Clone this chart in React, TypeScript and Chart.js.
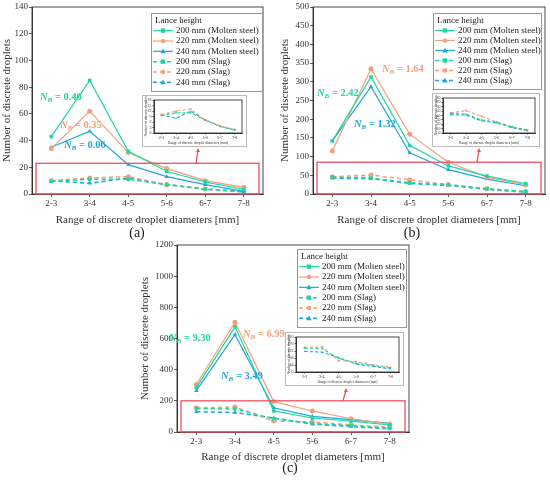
import { useEffect, useRef } from 'react';
import Chart from 'chart.js/auto';

Chart.defaults.font.family = '"Liberation Serif", "Times New Roman", serif';
Chart.defaults.color = '#222';

const categories = ['2-3', '3-4', '4-5', '5-6', '6-7', '7-8'];
const seriesNames = [
  '200 mm (Molten steel)',
  '220 mm (Molten steel)',
  '240 mm (Molten steel)',
  '200 mm (Slag)',
  '220 mm (Slag)',
  '240 mm (Slag)',
];
const xTitle = 'Range of discrete droplet diameters [mm]';
const yTitle = 'Number of discrete droplets';

// (a)
const steelA200 = [43, 85, 32, 17, 9, 3.5];
const steelA220 = [34, 62, 31, 19, 10, 5];
const steelA240 = [35, 47, 22, 13, 7, 2];
const slagA200 = [9.5, 11, 11, 7, 3.8, 1.8];
const slagA220 = [10, 12, 13, 7, 3.8, 1.8];
const slagA240 = [10, 8, 12, 7, 3.6, 1.5];
const nbA = ['0.40', '0.35', '0.06'];

// (b)
const steelB200 = [142, 313, 130, 75, 48, 28];
const steelB220 = [115, 335, 160, 85, 45, 25];
const steelB240 = [142, 287, 110, 65, 40, 22];
const slagB200 = [45, 43, 30, 25, 14, 7];
const slagB220 = [46, 51, 38, 25, 14, 6];
const slagB240 = [42, 41, 28, 23, 12, 5];
const nbB = ['2.42', '1.64', '1.32'];

// (c)
const steelC200 = [285, 675, 135, 90, 70, 45];
const steelC220 = [305, 705, 195, 135, 85, 50];
const steelC240 = [265, 625, 155, 100, 80, 55];
const slagC200 = [150, 148, 85, 55, 40, 25];
const slagC220 = [155, 160, 70, 65, 45, 30];
const slagC240 = [130, 125, 90, 50, 35, 20];
const nbC = ['9.30', '6.99', '3.49'];

const colors = ['#1fd6a0', '#f4a07a', '#1ea8d8'];
const markers = ['rect', 'circle', 'triangle'];
const RED = '#ef4f5f';
const SERIF = '"Liberation Serif", "Times New Roman", serif';

type Frame = {
  width: number; height: number;
  padLeft: number; padTop: number; padRight: number;
  yWidth: number; xHeight: number;
  yMax: number; yStep: number;
  tick: number; title: number; tickLen: number;
  point: number; line: number;
};

type Panel = Frame & {
  left: number; top: number;
  steel: number[][]; slag: number[][];
  boxTop: number;
  arrow: { x1: number; x2: number; y2: number };
  legend: { x: number; y: number; w: number; h: number };
  nb: string[];
  notes: { x: number; y: number }[];
  inset: Frame & { left: number; top: number };
  tag: { text: string; x: number; y: number };
};

function marker(ctx: CanvasRenderingContext2D, kind: string, x: number, y: number, r: number, color: string) {
  ctx.fillStyle = color;
  ctx.beginPath();
  if (kind === 'rect') ctx.rect(x - r, y - r, 2 * r, 2 * r);
  else if (kind === 'circle') ctx.arc(x, y, r, 0, Math.PI * 2);
  else {
    ctx.moveTo(x, y - r * 1.3);
    ctx.lineTo(x + r * 1.2, y + r * 0.9);
    ctx.lineTo(x - r * 1.2, y + r * 0.9);
    ctx.closePath();
  }
  ctx.fill();
}

function buildDatasets(steel: number[][], slag: number[][], f: Frame) {
  const one = (data: number[], i: number, dashed: boolean) => ({
    label: seriesNames[dashed ? i + 3 : i],
    data,
    borderColor: colors[i],
    backgroundColor: colors[i],
    pointStyle: markers[i],
    pointRadius: f.point,
    pointBorderWidth: 0,
    borderWidth: dashed ? f.line * 1.25 : f.line,
    borderDash: dashed ? [f.line * 3.5, f.line * 2.5] : [],
    tension: 0,
  });
  return [...steel.map((d, i) => one(d, i, false)), ...slag.map((d, i) => one(d, i, true))];
}

function scaleOptions(f: Frame) {
  const grid = { drawOnChartArea: false, drawTicks: true, tickLength: f.tickLen, color: '#333', lineWidth: 0.8 };
  return {
    x: {
      type: 'category' as const,
      offset: true,
      grid,
      border: { color: '#333' },
      ticks: { font: { size: f.tick }, color: '#333', padding: 1, maxRotation: 0, autoSkip: false },
      title: { display: true, text: xTitle, font: { size: f.title }, color: '#333', padding: { top: 1, bottom: 1 } },
      afterFit: (s: any) => { s.height = f.xHeight; },
    },
    y: {
      min: 0,
      max: f.yMax,
      grid,
      border: { color: '#333' },
      ticks: {
        stepSize: f.yStep, font: { size: f.tick }, color: '#333', padding: 1, autoSkip: false,
        callback: (v: any) => String(v),
      },
      title: { display: true, text: yTitle, font: { size: f.title }, color: '#333', padding: { top: 1, bottom: 1 } },
      afterFit: (s: any) => { s.width = f.yWidth; },
    },
  };
}

function drawNote(ctx: CanvasRenderingContext2D, value: string, color: string, x: number, y: number) {
  ctx.fillStyle = color;
  ctx.textBaseline = 'middle';
  ctx.textAlign = 'left';
  ctx.font = `italic bold 10.5px ${SERIF}`;
  ctx.fillText('N', x, y);
  let cx = x + ctx.measureText('N').width;
  ctx.font = `italic bold 7px ${SERIF}`;
  ctx.fillText('B', cx, y + 3);
  cx += ctx.measureText('B').width;
  ctx.font = `bold 10.5px ${SERIF}`;
  ctx.fillText(` = ${value}`, cx, y);
}

function drawLegend(ctx: CanvasRenderingContext2D, lg: Panel['legend']) {
  ctx.save();
  ctx.fillStyle = '#fff';
  ctx.fillRect(lg.x, lg.y, lg.w, lg.h);
  ctx.strokeStyle = '#999';
  ctx.lineWidth = 1;
  ctx.strokeRect(lg.x + 0.5, lg.y + 0.5, lg.w, lg.h);
  ctx.font = `9px ${SERIF}`;
  ctx.textBaseline = 'middle';
  ctx.fillStyle = '#222';
  ctx.fillText('Lance height', lg.x + 4, lg.y + 7.5);
  const step = (lg.h - 16) / 6;
  seriesNames.forEach((name, i) => {
    const y = lg.y + 17 + step * i + step / 2 - 4.5;
    const c = colors[i % 3];
    ctx.strokeStyle = c;
    ctx.lineWidth = i >= 3 ? 1.5 : 1.2;
    ctx.setLineDash(i >= 3 ? [4, 3] : []);
    ctx.beginPath();
    ctx.moveTo(lg.x + 2, y);
    ctx.lineTo(lg.x + 22, y);
    ctx.stroke();
    ctx.setLineDash([]);
    marker(ctx, markers[i % 3], lg.x + 12, y, 2.2, c);
    ctx.fillStyle = '#222';
    ctx.fillText(name, lg.x + 25, y);
  });
  ctx.restore();
}

function PlotCanvas({ frame, steel, slag, extra }: { frame: Frame; steel: number[][]; slag: number[][]; extra?: Panel }) {
  const canvasRef = useRef<HTMLCanvasElement>(null);
  const chartRef = useRef<Chart | null>(null);

  useEffect(() => {
    if (!canvasRef.current) return;
    if (chartRef.current) chartRef.current.destroy();

    const decor = {
      id: 'decor',
      afterDraw(chart: any) {
        const { ctx, chartArea: a, scales } = chart;
        ctx.save();
        ctx.strokeStyle = '#333';
        ctx.lineWidth = 0.9;
        ctx.strokeRect(a.left, a.top, a.right - a.left, a.bottom - a.top);
        if (extra) {
          const top = scales.y.getPixelForValue(extra.boxTop);
          ctx.strokeStyle = RED;
          ctx.lineWidth = 1.3;
          ctx.strokeRect(a.left + 4, top, a.right - a.left - 8, a.bottom - top);
          const { x1, x2, y2 } = extra.arrow;
          ctx.beginPath();
          ctx.moveTo(x1, top);
          ctx.lineTo(x2, y2 + 2);
          ctx.stroke();
          ctx.fillStyle = RED;
          ctx.beginPath();
          ctx.moveTo(x2, y2);
          ctx.lineTo(x2 + 2, y2 + 4);
          ctx.lineTo(x2 - 2, y2 + 4);
          ctx.closePath();
          ctx.fill();
          drawLegend(ctx, extra.legend);
          extra.nb.forEach((v, i) => drawNote(ctx, v, colors[i], extra.notes[i].x, extra.notes[i].y));
        }
        ctx.restore();
      },
    };

    chartRef.current = new Chart(canvasRef.current, {
      type: 'line',
      data: { labels: categories, datasets: buildDatasets(steel, slag, frame) as any },
      options: {
        responsive: false,
        animation: false,
        layout: { padding: { left: frame.padLeft, top: frame.padTop, right: frame.padRight, bottom: 0 } },
        plugins: { legend: { display: false }, tooltip: { enabled: false } },
        scales: scaleOptions(frame) as any,
      },
      plugins: [decor],
    });

    return () => {
      if (chartRef.current) {
        chartRef.current.destroy();
        chartRef.current = null;
      }
    };
  }, []);

  return <canvas ref={canvasRef} width={frame.width} height={frame.height} style={{ width: frame.width, height: frame.height, display: 'block' }} />;
}

const mainFrame = { tick: 9, title: 11, tickLen: 3, point: 2.5, line: 1.2 };
const insetFrame = { tick: 4, title: 3.6, tickLen: 1.5, point: 1.1, line: 0.9 };

const panels: Panel[] = [
  {
    ...mainFrame,
    left: 0, top: 0, width: 270, height: 228,
    padLeft: 0, padTop: 7, padRight: 7, yWidth: 32, xHeight: 34,
    yMax: 140, yStep: 20,
    steel: [steelA200, steelA220, steelA240],
    slag: [slagA200, slagA220, slagA240],
    boxTop: 23,
    arrow: { x1: 196, x2: 198, y2: 148 },
    legend: { x: 151, y: 13, w: 111, h: 78 },
    nb: nbA,
    notes: [{ x: 40, y: 97 }, { x: 60, y: 125 }, { x: 64, y: 145 }],
    inset: {
      ...insetFrame,
      left: 142, top: 95, width: 103, height: 50,
      padLeft: 0, padTop: 2, padRight: 2, yWidth: 11, xHeight: 13,
      yMax: 18, yStep: 3,
    },
    tag: { text: '(a)', x: 137, y: 233 },
  },
  {
    ...mainFrame,
    left: 275, top: 0, width: 275, height: 228,
    padLeft: 3, padTop: 7, padRight: 5, yWidth: 35, xHeight: 34,
    yMax: 500, yStep: 50,
    steel: [steelB200, steelB220, steelB240],
    slag: [slagB200, slagB220, slagB240],
    boxTop: 85,
    arrow: { x1: 202, x2: 204, y2: 148 },
    legend: { x: 158, y: 13, w: 108, h: 76 },
    nb: nbB,
    notes: [{ x: 42, y: 93 }, { x: 107, y: 69 }, { x: 79, y: 124 }],
    inset: {
      ...insetFrame,
      left: 432, top: 93, width: 106, height: 52,
      padLeft: 0, padTop: 2, padRight: 2, yWidth: 10, xHeight: 13,
      yMax: 80, yStep: 10,
    },
    tag: { text: '(b)', x: 412, y: 233 },
  },
  {
    ...mainFrame,
    left: 130, top: 230, width: 300, height: 235,
    padLeft: 8, padTop: 15, padRight: 21, yWidth: 39, xHeight: 33,
    yMax: 1200, yStep: 200,
    steel: [steelC200, steelC220, steelC240],
    slag: [slagC200, slagC220, slagC240],
    boxTop: 200,
    arrow: { x1: 213, x2: 216, y2: 158 },
    legend: { x: 167, y: 19, w: 109, h: 78 },
    nb: nbC,
    notes: [{ x: 39, y: 108 }, { x: 113, y: 104 }, { x: 91, y: 146 }],
    inset: {
      ...insetFrame,
      left: 285, top: 332, width: 117, height: 52,
      padLeft: 0, padTop: 2, padRight: 2, yWidth: 10, xHeight: 13,
      yMax: 220, yStep: 44,
    },
    tag: { text: '(c)', x: 290, y: 468 },
  },
];

export default function App() {
  return (
    <div style={{ position: 'fixed', left: 0, top: 0, width: 550, height: 481, background: '#fff', overflow: 'hidden' }}>
      {panels.map((p) => (
        <div key={p.tag.text}>
          <div style={{ position: 'absolute', left: p.left, top: p.top }}>
            <PlotCanvas frame={p} steel={p.steel} slag={p.slag} extra={p} />
          </div>
          <div style={{ position: 'absolute', left: p.inset.left, top: p.inset.top, border: '1px solid #bbb', background: '#fff' }}>
            <PlotCanvas frame={p.inset} steel={[]} slag={p.slag} />
          </div>
          <div
            style={{
              position: 'absolute', left: p.tag.x - 20, top: p.tag.y - 9, width: 40, height: 18,
              textAlign: 'center', font: `14px ${SERIF}`, lineHeight: '18px', color: '#222',
            }}
          >
            {p.tag.text}
          </div>
        </div>
      ))}
    </div>
  );
}
